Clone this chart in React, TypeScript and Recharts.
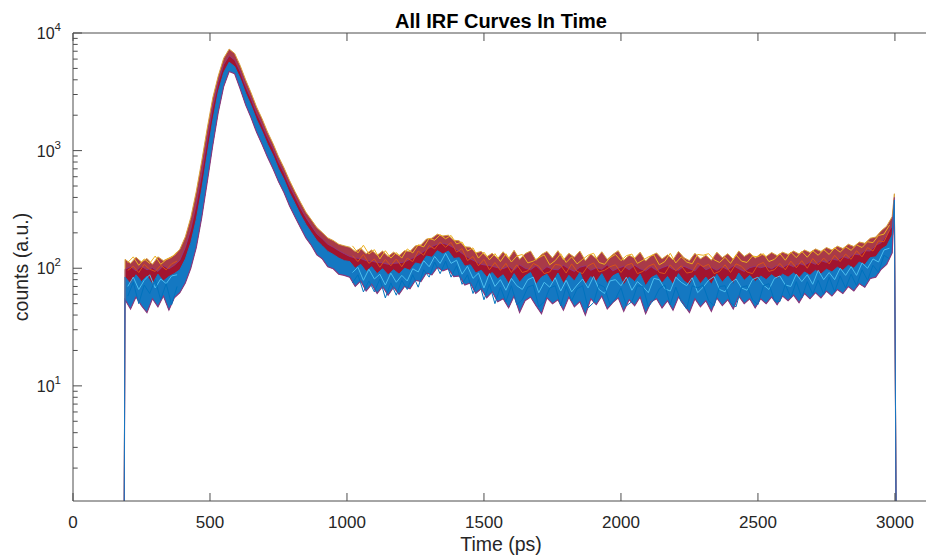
import React from 'react';
import { ComposedChart, Area, Line, XAxis, YAxis } from 'recharts';

// Time grid (ps)
const TIME = [
  187,
  190, 210, 230, 250, 270, 290, 310, 330, 350, 370, 390,
  410, 430, 450, 470, 490, 510, 530, 550, 570,
  590, 610, 630, 650, 670, 690, 710, 730, 750, 770, 790, 810, 830, 850, 870, 890, 910, 930, 950, 970, 990,
  1010, 1030, 1050, 1070, 1090, 1110, 1130, 1150, 1170, 1190, 1210, 1230, 1250, 1270, 1290, 1310, 1330, 1350, 1370, 1390, 1410, 1430, 1450, 1470, 1490, 1510, 1530, 1550,
  1570, 1590, 1610, 1630, 1650, 1670, 1690, 1710, 1730, 1750, 1770, 1790, 1810, 1830, 1850, 1870, 1890, 1910, 1930, 1950,
  1970, 1990, 2010, 2030, 2050, 2070, 2090, 2110, 2130, 2150, 2170, 2190, 2210, 2230, 2250, 2270, 2290, 2310, 2330, 2350,
  2370, 2390, 2410, 2430, 2450, 2470, 2490,
  2510, 2530, 2550, 2570, 2590, 2610, 2630, 2650, 2670, 2690, 2710, 2730, 2750, 2770, 2790, 2810, 2830, 2850, 2870, 2890, 2910, 2930, 2950, 2970, 2990,
  2998, 3004,
];

// Upper envelope of all curves (counts)
const UPPER = [
  1,
  119, 110, 124, 113, 121, 108, 125, 116, 122, 129, 145,
  185, 270, 450, 820, 1550, 2800, 4300, 6100, 7300,
  6700, 5300, 4000, 3100, 2350, 1870, 1440, 1150, 890, 715, 560, 450, 365, 300, 258, 222, 201, 181, 172, 160, 155,
  151, 139, 148, 133, 143, 129, 140, 126, 137, 128, 141, 139, 155, 158, 177, 180, 195, 188, 191, 173, 171, 152, 151, 135, 139, 125, 134, 121,
  138, 121, 142, 119, 133, 140, 117, 131, 139, 122, 141, 118, 134, 124, 140, 116, 132, 121, 138, 119,
  131, 141, 117, 129, 122, 137, 115, 128, 135, 120, 130, 118, 139, 123, 116, 134, 120, 129, 117, 137,
  123, 133, 119, 140, 126, 135, 122,
  133, 126, 136, 128, 137, 131, 140, 132, 143, 136, 146, 139, 150, 143, 154, 147, 160, 153, 167, 163, 180, 184, 208, 228, 275,
  430, 1,
];

// Top of the red group of curves
const RED_TOP = [
  1,
  98, 103, 95, 104, 97, 101, 94, 105, 99, 106, 117,
  150, 215, 350, 640, 1250, 2350, 3800, 5400, 6400,
  5900, 4700, 3520, 2760, 2090, 1660, 1290, 1040, 800, 648, 500, 408, 326, 270, 229, 196, 178, 160, 151, 141, 133,
  126, 122, 121, 116, 115, 112, 111, 108, 110, 111, 113, 119, 125, 134, 144, 153, 160, 163, 158, 149, 139, 129, 120, 114, 108, 106, 104, 101,
  99, 104, 96, 107, 100, 97, 105, 95, 103, 98, 97, 106, 99, 94, 102, 105, 96, 101, 98, 107,
  95, 100, 104, 97, 106, 99, 95, 103, 96, 101, 105, 98, 96, 104, 99, 95, 107, 97, 102, 96,
  103, 97, 105, 99, 94, 101, 104,
  101, 104, 99, 106, 101, 108, 103, 110, 106, 113, 108, 116, 112, 120, 117, 126, 121, 132, 130, 141, 140, 157, 165, 193, 228,
  400, 1,
];

// Top of the blue group of curves
const BLUE_TOP = [
  1,
  84, 74, 88, 77, 86, 73, 89, 78, 85, 90, 97,
  120, 165, 260, 470, 930, 1800, 3150, 4600, 5650,
  5180, 4120, 3080, 2420, 1830, 1460, 1130, 910, 700, 568, 438, 356, 286, 236, 201, 172, 155, 139, 131, 122, 116,
  114, 100, 108, 94, 103, 90, 99, 88, 97, 89, 100, 96, 111, 108, 127, 124, 141, 132, 140, 121, 123, 104, 107, 91, 96, 84, 92, 81,
  88, 74, 90, 76, 86, 92, 73, 84, 89, 75, 91, 74, 87, 78, 92, 72, 85, 77, 90, 74,
  86, 91, 72, 84, 77, 89, 71, 83, 88, 75, 85, 73, 90, 78, 72, 87, 74, 84, 73, 89,
  76, 86, 74, 91, 79, 87, 77,
  86, 80, 88, 81, 89, 84, 91, 83, 93, 87, 96, 89, 98, 93, 102, 96, 106, 100, 113, 107, 123, 125, 145, 155, 192,
  380, 1,
];

// Lower envelope of all curves
const LOWER = [
  1,
  54, 45, 57, 48, 42, 55, 47, 58, 44, 56, 62,
  75, 100, 150, 270, 540, 1100, 2100, 3500, 4700,
  4500, 3350, 2450, 1900, 1430, 1130, 880, 700, 545, 440, 340, 274, 222, 181, 156, 130, 120, 103, 99, 89, 87,
  84, 70, 78, 64, 73, 61, 70, 59, 69, 60, 70, 67, 79, 77, 91, 88, 102, 95, 99, 85, 86, 72, 75, 61, 67, 56, 63, 52,
  55, 46, 58, 42, 53, 57, 48, 41, 56, 50, 54, 44, 57, 47, 52, 40, 55, 49, 58, 45,
  51, 56, 43, 54, 48, 57, 41, 52, 55, 46, 53, 44, 57, 49, 42, 55, 47, 53, 43, 56,
  48, 54, 45, 58, 50, 55, 46,
  55, 50, 57, 49, 58, 53, 59, 51, 61, 55, 62, 56, 64, 58, 66, 61, 70, 64, 74, 69, 82, 84, 98, 108, 135,
  330, 1,
];

// Individual noisy curves sampled between the envelope points (null = gap over the peak)
const NOISE_TIME = [
  200, 220, 240, 260, 280, 300, 320, 340, 360, 380,
  700,
  1020, 1040, 1060, 1080, 1100, 1120, 1140, 1160, 1180, 1200,
  1220, 1240, 1260, 1280, 1300, 1320, 1340, 1360, 1380, 1400,
  1420, 1440, 1460, 1480, 1500, 1520, 1540, 1560, 1580, 1600,
  1620, 1640, 1660, 1680, 1700, 1720, 1740, 1760, 1780, 1800,
  1820, 1840, 1860, 1880, 1900, 1920, 1940, 1960, 1980, 2000,
  2020, 2040, 2060, 2080, 2100, 2120, 2140, 2160, 2180, 2200,
  2220, 2240, 2260, 2280, 2300, 2320, 2340, 2360, 2380, 2400,
  2420, 2440, 2460, 2480, 2500, 2520, 2540, 2560, 2580, 2600,
  2620, 2640, 2660, 2680, 2700, 2720, 2740, 2760, 2780, 2800,
  2820, 2840, 2860, 2880, 2900, 2920, 2940, 2960, 2980,
];

const CURVE_LIGHTBLUE = [
  70, 84, 66, 79, 88, 68, 81, 74, 86, 88,
  null,
  92, 102, 79, 98, 81, 89, 72, 91, 76, 87,
  78, 99, 93, 116, 103, 126, 110, 134, 110, 117,
  89, 104, 82, 91, 68, 90, 70, 80, 65, 82,
  71, 66, 80, 84, 62, 76, 69, 83, 64, 79,
  63, 72, 81, 68, 85, 66, 61, 78, 80, 71,
  84, 65, 77, 70, 62, 82, 80, 67, 64, 84,
  76, 71, 83, 62, 69, 79, 85, 66, 63, 75,
  81, 68, 65, 80, 84, 72, 66, 82, 86, 72,
  70, 89, 77, 88, 73, 96, 80, 92, 80, 100,
  87, 103, 87, 111, 100, 120, 113, 143, 148,
];

const CURVE_YELLOW = [
  112, 125, 106, 120, 110, 127, 108, 118, 124, 138,
  null,
  155, 135, 157, 132, 144, 120, 141, 122, 136, 122,
  146, 135, 158, 152, 179, 173, 192, 178, 190, 161,
  167, 140, 149, 122, 137, 118, 133, 114, 133, 113,
  127, 131, 111, 115, 123, 130, 107, 116, 133, 112,
  125, 109, 119, 129, 134, 112, 108, 123, 131, 116,
  128, 132, 110, 117, 125, 130, 107, 114, 134, 111,
  125, 113, 109, 131, 129, 133, 118, 112, 124, 110,
  130, 115, 112, 127, 125, 133, 114, 119, 133, 117,
  137, 123, 139, 124, 141, 129, 144, 131, 149, 137,
  152, 142, 158, 150, 168, 165, 190, 195, 232,
];

const CURVE_ORANGE = [
  96, 104, 92, 108, 98, 94, 106, 97, 109, 115,
  null,
  128, 114, 131, 110, 120, 102, 119, 105, 120, 103,
  122, 114, 140, 129, 156, 146, 167, 151, 166, 137,
  147, 116, 126, 105, 119, 97, 112, 96, 110, 92,
  107, 92, 95, 110, 104, 90, 93, 108, 106, 91,
  109, 94, 90, 105, 111, 93, 96, 103, 107, 92,
  106, 110, 90, 94, 104, 109, 92, 90, 107, 95,
  105, 91, 93, 111, 103, 108, 90, 94, 107, 92,
  109, 104, 93, 90, 107, 112, 94, 97, 110, 97,
  115, 101, 116, 100, 121, 107, 122, 109, 129, 114,
  132, 119, 141, 125, 150, 140, 171, 168, 210,
];

const CURVE_DARKBLUE = [
  58, 76, 50, 72, 61, 80, 54, 74, 49, 70,
  null,
  75, 88, 63, 78, 63, 81, 56, 75, 59, 79,
  66, 88, 69, 97, 84, 113, 90, 115, 84, 105,
  73, 88, 61, 80, 54, 73, 50, 69, 52, 71,
  49, 54, 69, 72, 47, 52, 68, 71, 48, 70,
  53, 67, 71, 46, 51, 73, 69, 49, 55, 68,
  48, 52, 71, 70, 47, 54, 67, 72, 49, 69,
  52, 45, 71, 68, 72, 53, 48, 70, 71, 51,
  47, 69, 71, 54, 49, 71, 74, 53, 52, 73,
  56, 77, 56, 77, 60, 79, 60, 84, 63, 86,
  68, 89, 71, 97, 79, 106, 92, 129, 120,
];

const X_TICKS = [0, 500, 1000, 1500, 2000, 2500, 3000];
const Y_MAJOR = [10, 100, 1000, 10000];
const Y_MINOR_MULT = [2, 3, 4, 5, 6, 7, 8, 9];
const Y_DECADES = [1, 10, 100, 1000];

const Y_TICKS = [
  ...Y_DECADES.flatMap((d) => Y_MINOR_MULT.map((m) => m * d)),
  ...Y_MAJOR,
].sort((a, b) => a - b);

const DATA = TIME.map((t, i) => ({
  t,
  outer: [LOWER[i], UPPER[i]],
  red: [LOWER[i], RED_TOP[i]],
  blue: [LOWER[i], BLUE_TOP[i]],
  u: UPPER[i],
  r: RED_TOP[i],
  b: BLUE_TOP[i],
  l: LOWER[i],
}));

const NOISE_DATA = NOISE_TIME.map((t, i) => ({
  t,
  lb: CURVE_LIGHTBLUE[i],
  yl: CURVE_YELLOW[i],
  or: CURVE_ORANGE[i],
  db: CURVE_DARKBLUE[i],
}));

const AXIS = '#4d4d4d';
const TXT = '#262626';
const FONT = '"Liberation Sans", Arial, Helvetica, sans-serif';
const BLUE = '#1478C2';

const isMajor = (v: number) => {
  const l = Math.log10(v);
  return Math.abs(l - Math.round(l)) < 1e-9;
};

const LeftTick = (props: any) => {
  const { x, y, payload } = props;
  const v = payload.value;
  const major = isMajor(v);
  const len = major ? 9 : 4.7;
  return (
    <g>
      <line x1={x} x2={x + len} y1={y} y2={y} stroke={AXIS} strokeWidth={1} />
      {major && (
        <text x={x - 12} y={y + 6} textAnchor="end" fontFamily={FONT} fill={TXT}>
          <tspan fontSize={16}>10</tspan>
          <tspan fontSize={11.5} dy={-8}>{Math.round(Math.log10(v))}</tspan>
        </text>
      )}
    </g>
  );
};

const BottomTick = (props: any) => {
  const { x, y, payload } = props;
  return (
    <g>
      <line x1={x} x2={x} y1={y} y2={y - 8} stroke={AXIS} strokeWidth={1} />
      <text x={x} y={y + 27} textAnchor="middle" fontFamily={FONT} fontSize={17} fill={TXT}>
        {payload.value}
      </text>
    </g>
  );
};

const TopTick = (props: any) => {
  const { x, y } = props;
  return <line x1={x} x2={x} y1={y} y2={y + 8} stroke={AXIS} strokeWidth={1} />;
};

const noiseLine = (key: string, color: string, width = 1) => (
  <Line
    key={key}
    xAxisId="bottom"
    yAxisId="left"
    data={NOISE_DATA}
    dataKey={key}
    type="linear"
    stroke={color}
    strokeWidth={width}
    dot={false}
    activeDot={false}
    connectNulls={false}
    isAnimationActive={false}
  />
);

export default function App() {
  return (
    <div
      style={{
        position: 'absolute',
        left: 0,
        top: 0,
        width: 926,
        height: 558,
        overflow: 'hidden',
        background: '#fff',
      }}
    >
      <ComposedChart
        width={960}
        height={558}
        data={DATA}
        margin={{ top: 32, right: 30, bottom: 27, left: 0 }}
      >
        <XAxis
          xAxisId="bottom"
          orientation="bottom"
          dataKey="t"
          type="number"
          domain={[0, 3128]}
          allowDataOverflow
          ticks={X_TICKS}
          interval={0}
          height={30}
          tickSize={0}
          tickMargin={0}
          tickLine={false}
          axisLine={{ stroke: AXIS }}
          tick={(p: any) => <BottomTick {...p} />}
        />
        <XAxis
          xAxisId="top"
          orientation="top"
          dataKey="t"
          type="number"
          domain={[0, 3128]}
          allowDataOverflow
          ticks={X_TICKS}
          interval={0}
          height={1}
          tickSize={0}
          tickMargin={0}
          tickLine={false}
          axisLine={{ stroke: AXIS }}
          tick={(p: any) => <TopTick {...p} />}
        />
        <YAxis
          yAxisId="left"
          orientation="left"
          type="number"
          scale="log"
          domain={[1.05, 10000]}
          allowDataOverflow
          ticks={Y_TICKS}
          interval={0}
          width={73}
          tickSize={0}
          tickMargin={0}
          tickLine={false}
          axisLine={{ stroke: AXIS }}
          tick={(p: any) => <LeftTick {...p} />}
        />
        <Area
          xAxisId="bottom"
          yAxisId="left"
          dataKey="outer"
          type="linear"
          fill="#A93A48"
          fillOpacity={1}
          stroke="none"
          isAnimationActive={false}
        />
        <Line
          xAxisId="bottom"
          yAxisId="left"
          dataKey="u"
          type="linear"
          stroke="#D9A23A"
          strokeWidth={1}
          dot={false}
          activeDot={false}
          isAnimationActive={false}
        />
        <Area
          xAxisId="bottom"
          yAxisId="left"
          dataKey="red"
          type="linear"
          fill="#A2142F"
          fillOpacity={1}
          stroke="none"
          isAnimationActive={false}
        />
        <Line
          xAxisId="bottom"
          yAxisId="left"
          dataKey="r"
          type="linear"
          stroke="#8B3A8E"
          strokeWidth={0.8}
          dot={false}
          activeDot={false}
          isAnimationActive={false}
        />
        {noiseLine('yl', '#EDB120', 1)}
        {noiseLine('or', '#D95319', 1)}
        <Line
          xAxisId="bottom"
          yAxisId="left"
          dataKey="l"
          type="linear"
          stroke="#8A3A7E"
          strokeWidth={1.1}
          dot={false}
          activeDot={false}
          isAnimationActive={false}
        />
        <Area
          xAxisId="bottom"
          yAxisId="left"
          dataKey="blue"
          type="linear"
          fill={BLUE}
          fillOpacity={1}
          stroke="none"
          isAnimationActive={false}
        />
        <Line
          xAxisId="bottom"
          yAxisId="left"
          dataKey="b"
          type="linear"
          stroke={BLUE}
          strokeWidth={1}
          dot={false}
          activeDot={false}
          isAnimationActive={false}
        />
        {noiseLine('lb', '#4DBEEE', 1)}
        {noiseLine('db', '#0072BD', 1)}
        <Line
          xAxisId="top"
          yAxisId="left"
          dataKey="b"
          type="linear"
          stroke="none"
          strokeOpacity={0}
          dot={false}
          activeDot={false}
          isAnimationActive={false}
        />
      </ComposedChart>
      <svg
        width={926}
        height={558}
        style={{ position: 'absolute', left: 0, top: 0, pointerEvents: 'none' }}
      >
        <text x={501} y={28} textAnchor="middle" fontFamily={FONT} fontSize={20} fontWeight="bold" fill="#000">
          All IRF Curves In Time
        </text>
        <text x={501} y={551} textAnchor="middle" fontFamily={FONT} fontSize={19.5} fill={TXT}>
          Time (ps)
        </text>
        <text
          transform="translate(28, 267) rotate(-90)"
          textAnchor="middle"
          fontFamily={FONT}
          fontSize={19.5}
          fill={TXT}
        >
          counts (a.u.)
        </text>
      </svg>
    </div>
  );
}
